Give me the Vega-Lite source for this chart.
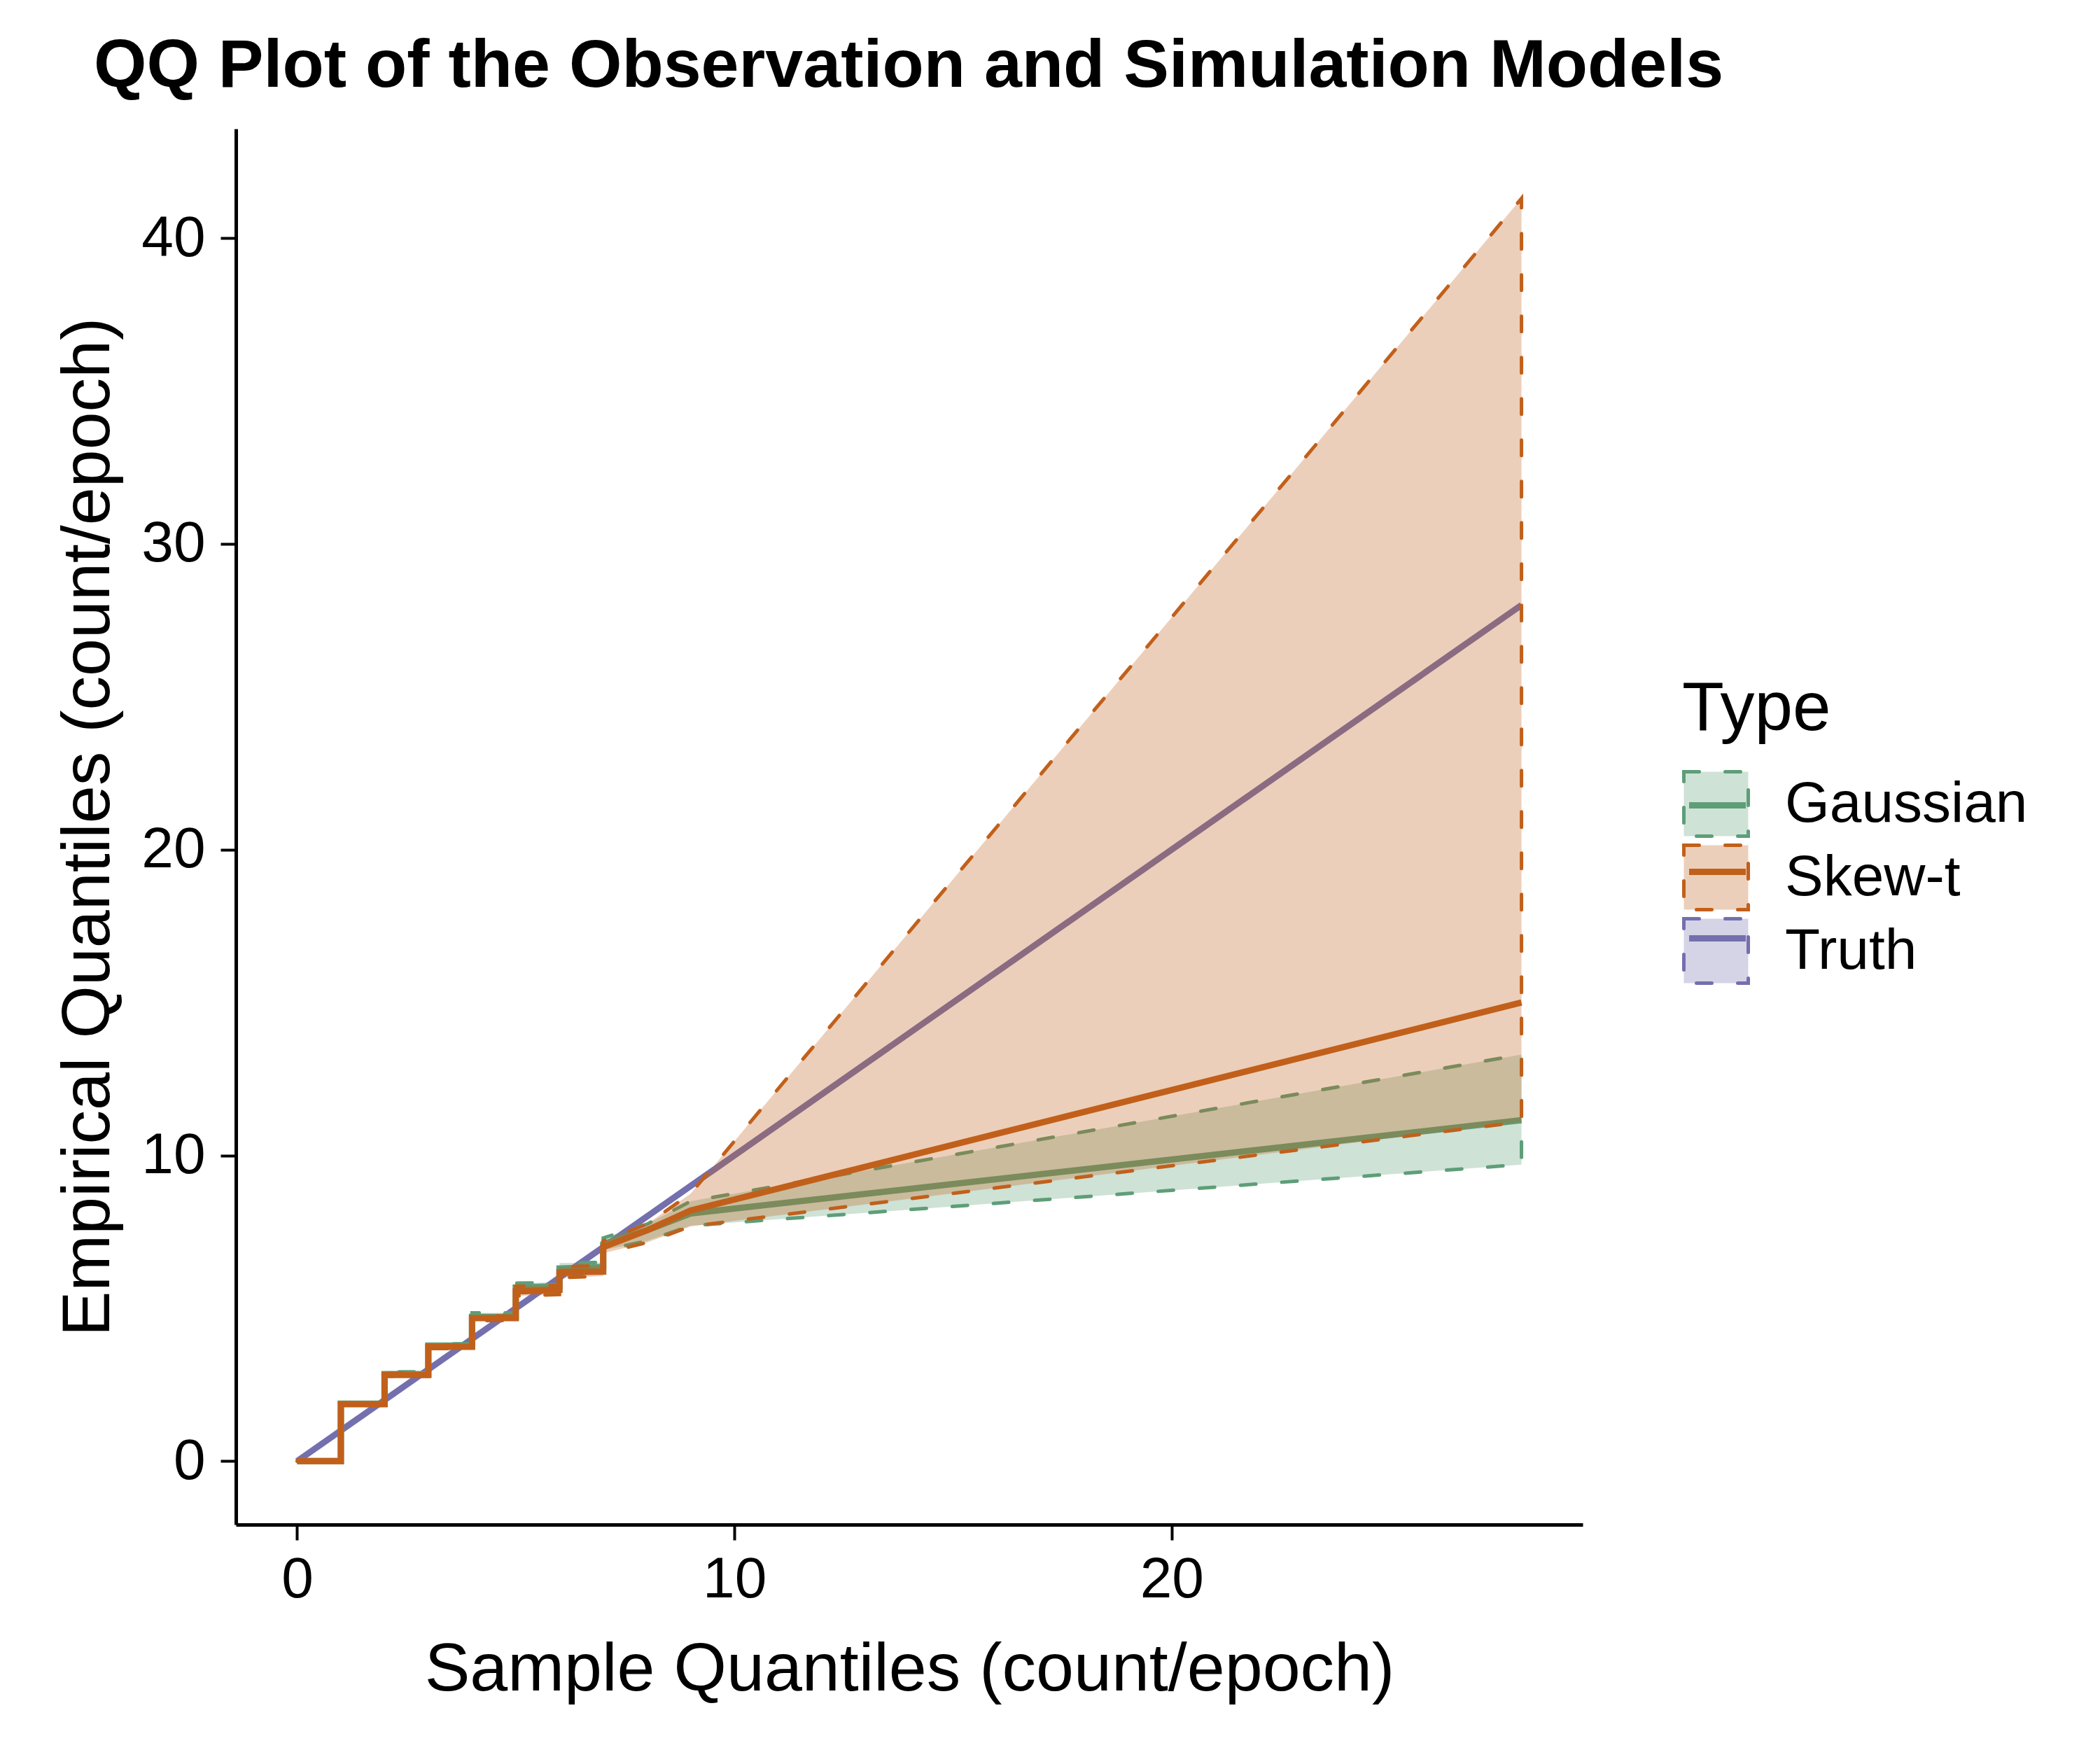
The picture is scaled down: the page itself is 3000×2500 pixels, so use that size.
{
  "$schema": "https://vega.github.io/schema/vega-lite/v6.json",
  "width": 1924,
  "height": 1994,
  "autosize": {"type": "none"},
  "padding": {"left": 337, "top": 184, "right": 739, "bottom": 322},
  "title": {
    "text": "QQ Plot of the Observation and Simulation Models",
    "anchor": "start",
    "frame": "group",
    "dx": -203,
    "offset": 40,
    "font": "Liberation Sans",
    "fontSize": 97,
    "fontWeight": "bold",
    "color": "black"
  },
  "config": {
    "view": {"stroke": null},
    "font": "Liberation Sans",
    "axis": {
      "grid": false,
      "domainColor": "black",
      "domainWidth": 5,
      "tickColor": "black",
      "tickWidth": 4,
      "tickSize": 22,
      "labelFont": "Liberation Sans",
      "labelFontSize": 82,
      "labelColor": "black",
      "titleFont": "Liberation Sans",
      "titleFontSize": 97,
      "titleFontWeight": "normal",
      "titleColor": "black"
    },
    "axisX": {"labelPadding": 16, "titlePadding": 40},
    "axisY": {"labelPadding": 22, "titlePadding": 26},
    "legend": {
      "labelFont": "Liberation Sans",
      "labelFontSize": 82,
      "labelColor": "black",
      "labelLimit": 0,
      "titleLimit": 0,
      "titleFont": "Liberation Sans",
      "titleFontSize": 98,
      "titleFontWeight": "normal",
      "titleColor": "black"
    }
  },
  "data": {
    "values": [
      {"type": "Truth", "x": 0, "lo": 0, "med": 0, "hi": 0, "ord": 0},
      {"type": "Truth", "x": 28, "lo": 28, "med": 28, "hi": 28, "ord": 1},

      {"type": "Gaussian", "x": 0, "lo": 0, "med": 0, "hi": 0, "ord": 0},
      {"type": "Gaussian", "x": 1, "lo": 0, "med": 0, "hi": 0, "ord": 1},
      {"type": "Gaussian", "x": 1, "lo": 1.85, "med": 1.88, "hi": 1.92, "ord": 2},
      {"type": "Gaussian", "x": 2, "lo": 1.85, "med": 1.88, "hi": 1.92, "ord": 3},
      {"type": "Gaussian", "x": 2, "lo": 2.8, "med": 2.85, "hi": 2.92, "ord": 4},
      {"type": "Gaussian", "x": 3, "lo": 2.8, "med": 2.85, "hi": 2.92, "ord": 5},
      {"type": "Gaussian", "x": 3, "lo": 3.72, "med": 3.78, "hi": 3.84, "ord": 6},
      {"type": "Gaussian", "x": 4, "lo": 3.72, "med": 3.78, "hi": 3.84, "ord": 7},
      {"type": "Gaussian", "x": 4, "lo": 4.65, "med": 4.72, "hi": 4.85, "ord": 8},
      {"type": "Gaussian", "x": 5, "lo": 4.65, "med": 4.72, "hi": 4.85, "ord": 9},
      {"type": "Gaussian", "x": 5, "lo": 5.55, "med": 5.68, "hi": 5.82, "ord": 10},
      {"type": "Gaussian", "x": 6, "lo": 5.6, "med": 5.72, "hi": 5.85, "ord": 11},
      {"type": "Gaussian", "x": 6, "lo": 6.1, "med": 6.3, "hi": 6.48, "ord": 12},
      {"type": "Gaussian", "x": 7, "lo": 6.15, "med": 6.35, "hi": 6.5, "ord": 13},
      {"type": "Gaussian", "x": 7, "lo": 6.9, "med": 7.1, "hi": 7.3, "ord": 14},
      {"type": "Gaussian", "x": 8, "lo": 7.2, "med": 7.55, "hi": 7.75, "ord": 15},
      {"type": "Gaussian", "x": 9, "lo": 7.7, "med": 8.1, "hi": 8.5, "ord": 16},
      {"type": "Gaussian", "x": 28, "lo": 9.7, "med": 11.15, "hi": 13.3, "ord": 17},

      {"type": "Skew-t", "x": 0, "lo": 0, "med": 0, "hi": 0, "ord": 0},
      {"type": "Skew-t", "x": 1, "lo": 0, "med": 0, "hi": 0, "ord": 1},
      {"type": "Skew-t", "x": 1, "lo": 1.82, "med": 1.86, "hi": 1.9, "ord": 2},
      {"type": "Skew-t", "x": 2, "lo": 1.82, "med": 1.86, "hi": 1.9, "ord": 3},
      {"type": "Skew-t", "x": 2, "lo": 2.78, "med": 2.82, "hi": 2.88, "ord": 4},
      {"type": "Skew-t", "x": 3, "lo": 2.78, "med": 2.82, "hi": 2.88, "ord": 5},
      {"type": "Skew-t", "x": 3, "lo": 3.68, "med": 3.74, "hi": 3.8, "ord": 6},
      {"type": "Skew-t", "x": 4, "lo": 3.68, "med": 3.74, "hi": 3.8, "ord": 7},
      {"type": "Skew-t", "x": 4, "lo": 4.6, "med": 4.68, "hi": 4.75, "ord": 8},
      {"type": "Skew-t", "x": 5, "lo": 4.6, "med": 4.68, "hi": 4.75, "ord": 9},
      {"type": "Skew-t", "x": 5, "lo": 5.4, "med": 5.55, "hi": 5.72, "ord": 10},
      {"type": "Skew-t", "x": 6, "lo": 5.45, "med": 5.6, "hi": 5.75, "ord": 11},
      {"type": "Skew-t", "x": 6, "lo": 6.0, "med": 6.18, "hi": 6.35, "ord": 12},
      {"type": "Skew-t", "x": 7, "lo": 6.05, "med": 6.2, "hi": 6.4, "ord": 13},
      {"type": "Skew-t", "x": 7, "lo": 6.8, "med": 7.0, "hi": 7.2, "ord": 14},
      {"type": "Skew-t", "x": 8, "lo": 7.15, "med": 7.55, "hi": 7.75, "ord": 15},
      {"type": "Skew-t", "x": 9, "lo": 7.68, "med": 8.2, "hi": 8.75, "ord": 16},
      {"type": "Skew-t", "x": 28, "lo": 11.1, "med": 15.0, "hi": 41.3, "ord": 17}
    ]
  },
  "encoding": {
    "x": {
      "field": "x",
      "type": "quantitative",
      "title": "Sample Quantiles (count/epoch)",
      "scale": {"domain": [-1.4, 29.4], "nice": false, "zero": false},
      "axis": {"values": [0, 10, 20]}
    }
  },
  "layer": [
    {
      "transform": [{"filter": "datum.type === 'Truth'"}],
      "mark": {"type": "line", "strokeWidth": 9},
      "encoding": {
        "y": {
          "field": "med",
          "type": "quantitative",
          "title": "Empirical Quantiles (count/epoch)",
          "scale": {"domain": [-2.075, 43.575], "nice": false, "zero": false},
          "axis": {"values": [0, 10, 20, 30, 40]}
        },
        "order": {"field": "ord"},
        "stroke": {
          "field": "type",
          "type": "nominal",
          "scale": {"range": ["#5e9e78", "#c1601b", "#7470ae"]},
          "legend": {
            "title": null,
            "orient": "none",
            "legendX": 2066,
            "legendY": 916,
            "symbolType": "M-0.88,0H0.88",
            "symbolSize": 8464,
            "symbolStrokeWidth": 5,
            "rowPadding": 3,
            "labelOffset": 50,
            "labelExpr": "''",
            "encode": {
              "symbols": {
                "update": {
                  "stroke": {"scale": "stroke", "field": "value"},
                  "strokeWidth": {"value": 9},
                  "fill": {"value": "transparent"},
                  "opacity": {"value": 1}
                }
              }
            }
          }
        }
      }
    },
    {
      "transform": [{"filter": "datum.type === 'Gaussian'"}],
      "mark": {"type": "area", "fillOpacity": 0.3, "strokeWidth": 5, "strokeDash": [22, 37], "strokeCap": "round", "strokeOpacity": 1},
      "encoding": {
        "y": {"field": "lo", "type": "quantitative", "title": "Empirical Quantiles (count/epoch)"},
        "y2": {"field": "hi"},
        "fill": {
          "field": "type",
          "type": "nominal",
          "scale": {"domain": ["Gaussian", "Skew-t", "Truth"], "range": ["#5e9e78", "#c1601b", "#7470ae"]},
          "legend": {
            "title": "Type",
            "orient": "none",
            "legendX": 2066,
            "legendY": 782,
            "symbolType": "square",
            "symbolSize": 8464,
            "symbolStrokeWidth": 5,
            "rowPadding": -12,
            "titlePadding": 36,
            "labelOffset": 50,
            "encode": {
              "symbols": {
                "update": {
                  "fill": {"scale": "fill", "field": "value"},
                  "fillOpacity": {"value": 0.3},
                  "stroke": {"scale": "fill", "field": "value"},
                  "strokeDash": {"value": [22, 37]},
                  "strokeWidth": {"value": 5},
                  "strokeCap": {"value": "round"},
                  "opacity": {"value": 1}
                }
              }
            }
          }
        },
        "stroke": {"field": "type", "type": "nominal"}
      }
    },
    {
      "transform": [{"filter": "datum.type === 'Gaussian'"}],
      "mark": {"type": "line", "strokeWidth": 9},
      "encoding": {
        "y": {"field": "med", "type": "quantitative", "title": "Empirical Quantiles (count/epoch)"},
        "order": {"field": "ord"},
        "stroke": {"field": "type", "type": "nominal"}
      }
    },
    {
      "transform": [{"filter": "datum.type === 'Skew-t'"}],
      "mark": {"type": "area", "fillOpacity": 0.3, "strokeWidth": 5, "strokeDash": [22, 37], "strokeCap": "round", "strokeOpacity": 1},
      "encoding": {
        "y": {"field": "lo", "type": "quantitative", "title": "Empirical Quantiles (count/epoch)"},
        "y2": {"field": "hi"},
        "fill": {"field": "type", "type": "nominal"},
        "stroke": {"field": "type", "type": "nominal"}
      }
    },
    {
      "transform": [{"filter": "datum.type === 'Skew-t'"}],
      "mark": {"type": "line", "strokeWidth": 9},
      "encoding": {
        "y": {"field": "med", "type": "quantitative", "title": "Empirical Quantiles (count/epoch)"},
        "order": {"field": "ord"},
        "stroke": {"field": "type", "type": "nominal"}
      }
    }
  ]
}
